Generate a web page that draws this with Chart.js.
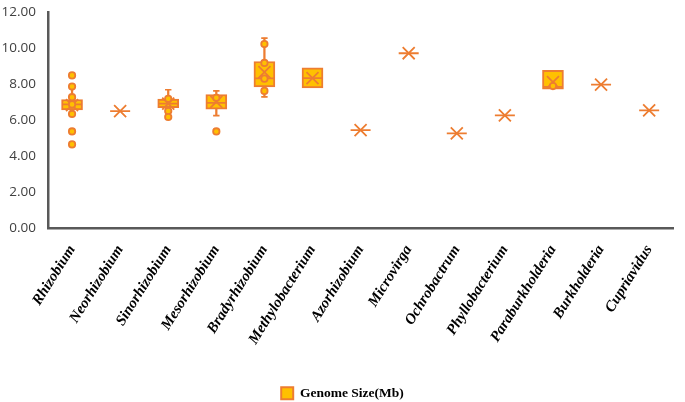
<!DOCTYPE html>
<html>
<head>
<meta charset="utf-8">
<script src="https://cdn.jsdelivr.net/npm/chart.js@4.4.1/dist/chart.umd.min.js"></script>
<style>
  html, body { margin: 0; padding: 0; background: #ffffff; }
  #wrap { width: 685px; height: 402px; position: relative; }
</style>
</head>
<body>
<div id="wrap"><canvas id="c"></canvas></div>
<script>
const categories = ["Rhizobium","Neorhizobium","Sinorhizobium","Mesorhizobium","Bradyrhizobium","Methylobacterium","Azorhizobium","Microvirga","Ochrobactrum","Phyllobacterium","Paraburkholderia","Burkholderia","Cupriavidus"];
const q1 =          [6.55, null, 6.68, 6.60, 7.83, 7.77, null, null, null, null, 7.70, null, null];
const q3 =          [7.13, null, 7.15, 7.41, 9.24, 8.89, null, null, null, null, 8.75, null, null];
const medians =     [6.86, 6.49, 6.90, 6.95, 8.30, 8.32, 5.43, 9.70, 5.25, 6.25, 7.83, 7.96, 6.53];
const means =       [6.82, 6.49, 6.90, 7.00, 8.65, 8.32, 5.43, 9.70, 5.25, 6.25, 8.10, 7.96, 6.53];
const whiskerLow =  [6.33, null, 6.16, 6.24, 7.28, null, null, null, null, null, null, null, null];
const whiskerHigh = [7.85, null, 7.67, 7.61, 10.54, null, null, null, null, null, null, null, null];
const pointValues = [
  [8.47, 7.85, 7.26, 6.86, 6.33, 5.36, 4.64],
  [],
  [7.17, 6.49, 6.16],
  [7.23, 5.36],
  [10.21, 9.16, 8.29, 7.61],
  [],
  [],
  [],
  [],
  [],
  [7.88],
  [],
  []
];
const yTicks = [0, 2, 4, 6, 8, 10, 12];
const seriesName = "Genome Size(Mb)";

const ORANGE = "#ED7D31";
const GOLD = "#FFC000";

const boxData = categories.map((c, i) => (q1[i] == null ? null : [q1[i], q3[i]]));
const stemData = categories.map((c, i) => (whiskerLow[i] == null ? null : [whiskerLow[i], whiskerHigh[i]]));
const capData = [];
categories.forEach((c, i) => {
  if (whiskerLow[i] != null) { capData.push({x: c, y: whiskerLow[i]}); capData.push({x: c, y: whiskerHigh[i]}); }
});
const ptData = [];
categories.forEach((c, i) => pointValues[i].forEach(v => ptData.push({x: c, y: v})));

new Chart(document.getElementById("c"), {
  type: "bar",
  data: {
    labels: categories,
    datasets: [
      { label: "stems", data: stemData, backgroundColor: ORANGE, borderWidth: 0, barThickness: 1.6, grouped: false, order: 5 },
      { label: seriesName, data: boxData, backgroundColor: GOLD, borderColor: ORANGE, borderWidth: 2, borderSkipped: false, barThickness: 21, grouped: false, order: 3 },
      { type: "line", label: "caps", data: capData, showLine: false, pointStyle: "line", pointRadius: 3.2, borderColor: ORANGE, borderWidth: 1.6, order: 4 },
      { type: "line", label: "median", data: medians, showLine: false, pointStyle: "line", pointRadius: 10, borderColor: ORANGE, borderWidth: 1.8, order: 2 },
      { type: "line", label: "mean", data: means, showLine: false, pointStyle: "crossRot", pointRadius: 8.5, borderColor: ORANGE, borderWidth: 1.8, order: 1 },
      { type: "line", label: "points", data: ptData, showLine: false, pointStyle: "circle", pointRadius: 3.2, backgroundColor: GOLD, borderColor: ORANGE, borderWidth: 1.8, order: 0 }
    ]
  },
  options: {
    responsive: true,
    maintainAspectRatio: false,
    animation: false,
    events: [],
    layout: { padding: { top: 2, right: 0, bottom: -8, left: 0 } },
    plugins: {
      tooltip: { enabled: false },
      legend: {
        position: "bottom",
        labels: {
          filter: item => item.text === seriesName,
          boxWidth: 12, boxHeight: 12,
          color: "#000",
          font: { family: "'Liberation Serif'", size: 13.5, weight: "bold" },
          padding: 4
        }
      }
    },
    scales: {
      x: {
        type: "category",
        offset: true,
        grid: { display: false, drawTicks: false },
        border: { display: true, color: "#595959", width: 2.5 },
        afterFit: axis => { axis.height = 154.5; axis.paddingLeft = 0; axis.paddingRight = 0; },
        ticks: {
          autoSkip: false,
          maxRotation: 58, minRotation: 58,
          padding: 14,
          color: "#000",
          font: { family: "'Liberation Serif'", size: 15, weight: "bold", style: "italic" }
        }
      },
      y: {
        min: 0, max: 12,
        afterBuildTicks: axis => { axis.ticks = yTicks.map(v => ({ value: v })); },
        afterFit: axis => { axis.width = 48; axis.paddingTop = 0; axis.paddingBottom = 0; },
        grid: { display: false, drawTicks: false },
        border: { display: true, color: "#595959", width: 2.5 },
        ticks: {
          padding: 12,
          color: "#404040",
          font: { family: "'Open Sans'", size: 13.5 },
          callback: v => Number(v).toFixed(2)
        }
      }
    }
  }
});
</script>
</body>
</html>
